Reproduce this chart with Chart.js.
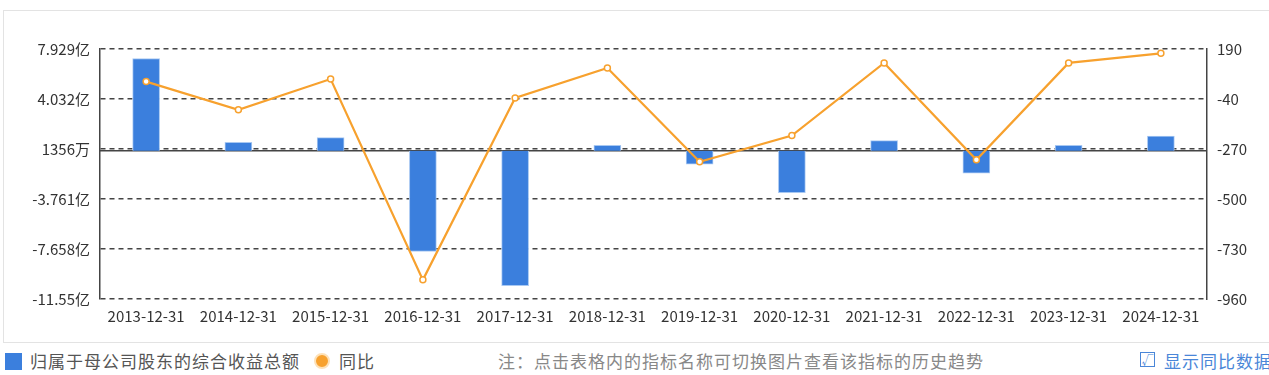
<!DOCTYPE html>
<html>
<head>
<meta charset="utf-8">
<script src="https://cdn.jsdelivr.net/npm/chart.js@4/dist/chart.umd.min.js"></script>
<style>
  html,body{margin:0;padding:0;background:#fff;width:1269px;height:375px;overflow:hidden;
    font-family:"Noto Sans CJK SC","Noto Sans",sans-serif;}
  #frame{position:absolute;left:3px;top:10px;width:1270px;height:333px;border:1px solid #e3e3e3;box-sizing:border-box;}
  #wrap{position:absolute;left:0;top:0;width:1269px;height:340px;}
  .lg{position:absolute;top:349px;font-size:17px;letter-spacing:1px;color:#555;line-height:24px;white-space:nowrap;}
  #sq{position:absolute;left:5px;top:353px;width:17px;height:17px;background:#3b7fdd;}
  #dot{position:absolute;left:314px;top:353px;width:12px;height:12px;border-radius:50%;background:#f7a12e;border:2px solid #fde1b8;}
  #chk{position:absolute;left:1140px;top:352px;width:15px;height:15px;border:1px solid #4a86d8;box-sizing:border-box;
    color:#4a86d8;font-size:12px;line-height:13px;text-align:center;}
</style>
</head>
<body>
<div id="frame"></div>
<div id="wrap"><canvas id="c"></canvas></div>
<div id="sq"></div>
<div class="lg" style="left:30px">归属于母公司股东的综合收益总额</div>
<div id="dot"></div>
<div class="lg" style="left:339px">同比</div>
<div class="lg" style="left:498px;color:#888">注：点击表格内的指标名称可切换图片查看该指标的历史趋势</div>
<div id="chk">√</div>
<div class="lg" style="left:1164px;color:#4a86d8">显示同比数据</div>
<script>
// 数据（亿元 / 同比%）
const DATES  = ['2013-12-31','2014-12-31','2015-12-31','2016-12-31','2017-12-31','2018-12-31',
                '2019-12-31','2020-12-31','2021-12-31','2022-12-31','2023-12-31','2024-12-31'];
const INCOME = [7.19, 0.66, 1.02, -7.85, -10.51, 0.43, -1.05, -3.26, 0.79, -1.75, 0.43, 1.15];
const YOY    = [40, -90, 52, -872, -35, 103, -329, -208, 126, -320, 126, 170];

const L_TICKS  = [-11.5539, -7.6574, -3.7609, 0.1356, 4.0321, 7.9286];
const L_LABELS = ['-11.55亿','-7.658亿','-3.761亿','1356万','4.032亿','7.929亿'];
const R_TICKS  = [-960, -730, -500, -270, -40, 190];

const FONT = {family:'"Noto Sans CJK SC","Noto Sans",sans-serif', size:15};

const zeroLine = {
  id:'zeroLine',
  beforeDatasetsDraw(ch){
    const y = ch.scales.y.getPixelForValue(0), a = ch.chartArea, ctx = ch.ctx;
    ctx.save(); ctx.strokeStyle='#444'; ctx.lineWidth=1.5;
    ctx.beginPath(); ctx.moveTo(a.left,y); ctx.lineTo(a.right,y); ctx.stroke(); ctx.restore();
  }
};

new Chart(document.getElementById('c'),{
  data:{
    labels:DATES,
    datasets:[
      {type:'line', data:YOY, yAxisID:'y1', borderColor:'#f7a12e', borderWidth:2.2,
       pointRadius:3, pointBackgroundColor:'#fff', pointBorderColor:'#f7a12e', pointBorderWidth:1.5,
       tension:0, order:0},
      {type:'bar', data:INCOME, yAxisID:'y', backgroundColor:'#3b7fdd', borderColor:'#a8c8f2',
       borderWidth:1, barThickness:27, order:1}
    ]
  },
  options:{
    responsive:true, maintainAspectRatio:false, animation:false,
    layout:{padding:{top:49,left:0,right:0,bottom:0}},
    plugins:{legend:{display:false}, tooltip:{enabled:false}},
    scales:{
      x:{
        grid:{display:false}, border:{display:false},
        ticks:{color:'#333', font:FONT, maxRotation:0, autoSkip:false, padding:0},
        afterFit(s){ s.height = 41; }
      },
      y:{
        position:'left', min:L_TICKS[0], max:L_TICKS[L_TICKS.length-1],
        afterBuildTicks(s){ s.ticks = L_TICKS.map(v=>({value:v})); },
        ticks:{color:'#333', font:FONT, padding:10,
          callback:(v,i)=>L_LABELS[i]},
        grid:{color:'#444', lineWidth:1.5, drawTicks:false},
        border:{display:true, color:'#444', width:1.5, dash:[5,4]},
        afterFit(s){ s.width = 100; }
      },
      y1:{
        position:'right', min:R_TICKS[0], max:R_TICKS[R_TICKS.length-1],
        afterBuildTicks(s){ s.ticks = R_TICKS.map(v=>({value:v})); },
        ticks:{color:'#333', font:FONT, padding:10},
        grid:{display:false, drawTicks:false},
        border:{display:true, color:'#444', width:1.5},
        afterFit(s){ s.width = 62; }
      }
    }
  },
  plugins:[zeroLine]
});
</script>
</body>
</html>
